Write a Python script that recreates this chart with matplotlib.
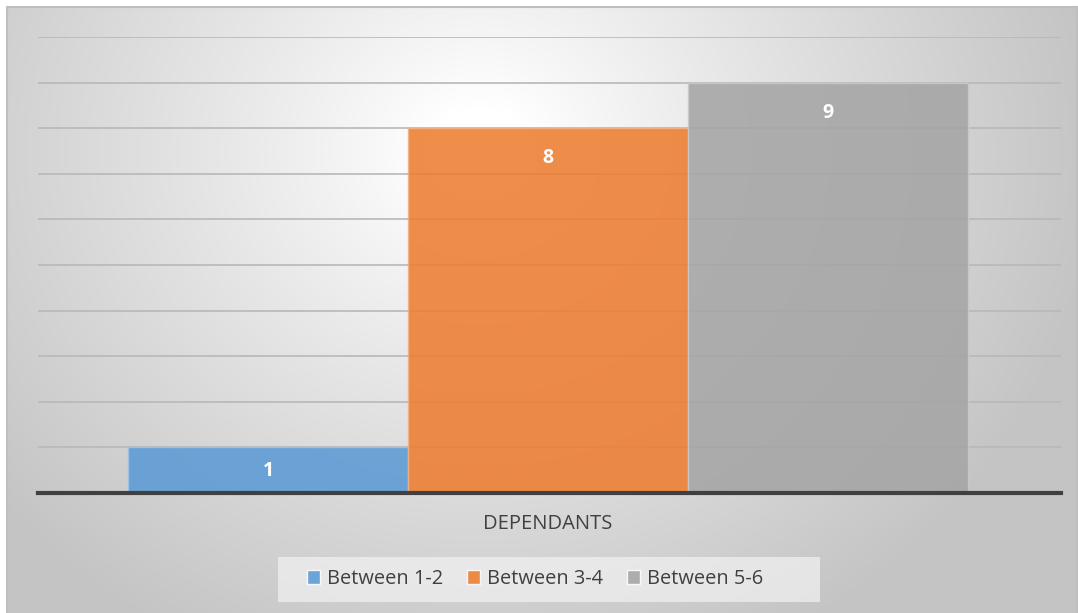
import numpy as np
import matplotlib
matplotlib.use("Agg")
import matplotlib.pyplot as plt
from matplotlib.patches import Rectangle

categories = ["Between 1-2", "Between 3-4", "Between 5-6"]
values = [1, 8, 9]
axis_label = "DEPENDANTS"
colors = ["#5B9BD5", "#ED7D31", "#A5A5A5"]

W, H = 1078, 613
fig = plt.figure(figsize=(W / 100, H / 100), dpi=100)
fig.patch.set_facecolor("white")

# background chart area with radial gradient
bx0, by0, bx1, by1 = 7, 7, 1077, 613
bg = fig.add_axes([bx0 / W, 1 - by1 / H, (bx1 - bx0) / W, (by1 - by0) / H])
bg.set_axis_off()
nx, ny = 400, 240
xs = np.linspace(bx0, bx1, nx)
ys = np.linspace(by0, by1, ny)
X, Y = np.meshgrid(xs, ys)
cx, cy = 480, 150
d = np.sqrt(((X - cx) / 620) ** 2 + ((Y - cy) / 560) ** 2)
d = np.clip(d, 0, 1)
light = 1.0 - 0.23 * np.clip((d - 0.08) / 0.92, 0, 1) ** 0.9
img = np.dstack([light, light, light])
bg.imshow(img, extent=[0, 1, 0, 1], aspect="auto", origin="upper", zorder=0)
bg.set_xlim(0, 1)
bg.set_ylim(0, 1)
bg.plot([0, 0], [0, 1], color="#BFBFBF", lw=1.5, transform=bg.transAxes, clip_on=False)
bg.plot([0, 1], [1, 1], color="#BFBFBF", lw=1.5, transform=bg.transAxes, clip_on=False)
bg.plot([1, 1], [0, 1], color="#BFBFBF", lw=1.5, transform=bg.transAxes, clip_on=False)

# plot area
pl, pr, pt, pb = 38, 1061, 37, 493
ax = fig.add_axes([pl / W, 1 - pb / H, (pr - pl) / W, (pb - pt) / H])
ax.patch.set_alpha(0)
x = np.arange(len(categories))
ax.set_ylim(0, 10)
ax.set_xlim(-0.5 - 90 / 280, 2.5 + 93 / 280)
ax.set_yticks(np.arange(0, 11, 1))
ax.yaxis.grid(True, color="#B8B8B8", lw=1.2, zorder=0)
ax.set_axisbelow(True)
for s in ["left", "right", "top"]:
    ax.spines[s].set_visible(False)
ax.spines["bottom"].set_color("#404040")
ax.spines["bottom"].set_linewidth(3)
ax.spines["bottom"].set_zorder(5)
ax.tick_params(left=False, bottom=False, labelleft=False, labelbottom=False)

bars = ax.bar(x, values, width=1.0, color=colors, alpha=0.88,
              edgecolor=["#9DC3E6", "#F4B183", "#C9C9C9"], linewidth=1.0, zorder=3)

px_per_unit = (pb - pt) / 10
for xi, v in zip(x, values):
    off_px = min(30, v * px_per_unit / 2 + 1)
    ax.annotate(str(v), xy=(xi, v), xytext=(0, -off_px * 0.72), textcoords="offset points",
                ha="center", va="center", color="white", fontsize=14, fontweight="bold",
                family="Open Sans", zorder=4)

fig.text(548 / W, 1 - 524 / H, axis_label, ha="center", va="center",
         fontsize=14.5, color="#404040", family="Open Sans")

# legend
lg = fig.add_axes([278 / W, 1 - 602 / H, (820 - 278) / W, 45 / H])
lg.set_axis_off()
lg.add_patch(Rectangle((0, 0), 1, 1, transform=lg.transAxes, facecolor="#F2F2F2",
                       edgecolor="none", alpha=0.7))
handles = [Rectangle((0, 0), 1, 1, facecolor=c, edgecolor="white", alpha=0.88) for c in colors]
fig.legend(handles, categories, loc="center", bbox_to_anchor=(535 / W, 1 - 579 / H),
           ncol=3, frameon=False, handlelength=0.65, handleheight=0.65,
           handletextpad=0.35, columnspacing=1.2, labelcolor="#404040",
           prop={"family": "Open Sans", "size": 14.4})

fig.savefig("out.png", dpi=100)
